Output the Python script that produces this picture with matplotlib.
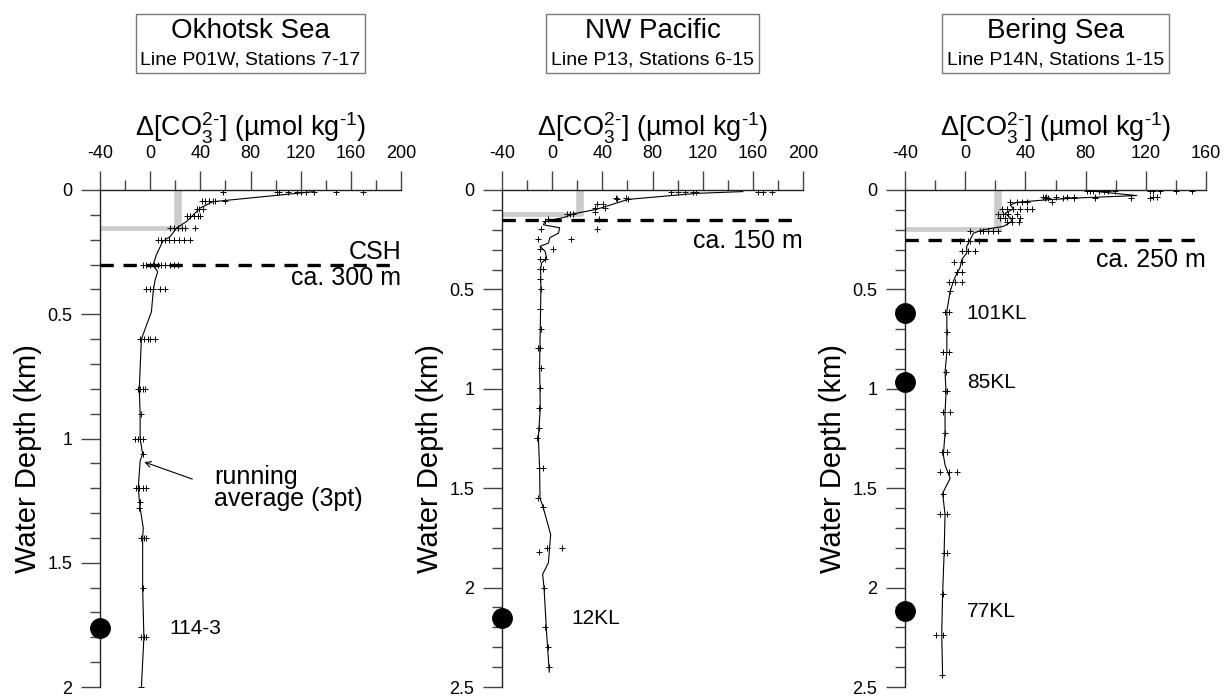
import matplotlib
matplotlib.use('Agg')
import matplotlib.pyplot as plt
from matplotlib.ticker import MultipleLocator, FormatStrFormatter
from matplotlib.offsetbox import TextArea, VPacker, AnnotationBbox

plt.rcParams['font.family'] = ['Liberation Sans', 'DejaVu Sans']
plt.rcParams['mathtext.fontset'] = 'custom'
plt.rcParams['mathtext.rm'] = 'Liberation Sans'
plt.rcParams['mathtext.it'] = 'Liberation Sans:italic'
plt.rcParams['mathtext.default'] = 'regular'
plt.rcParams['axes.unicode_minus'] = False

# ---- Okhotsk Sea (P01W) : measured points (depth km, delta CO3) ----
okh_z = [0.007] * 10 + [0.045] * 6 + [0.075] * 3 + [0.105] * 5 + [0.153] * 6 + \
        [0.203] * 8 + [0.30] * 10 + [0.40] * 5 + [0.60] * 5 + [0.80] * 4 + \
        [0.90, 1.0, 1.0, 1.0, 1.0, 1.063, 1.2, 1.2, 1.2, 1.2, 1.256, 1.28,
         1.4, 1.4, 1.4, 1.6, 1.8, 1.8, 1.8, 2.0]
okh_x = [58, 101, 103, 110, 117, 120, 124, 131, 148, 170,
         41, 44, 47, 50, 52, 60,
         37, 39, 42,
         29, 32, 35, 38, 40,
         16, 19, 22, 25, 28, 36,
         6, 9, 12, 15, 19, 23, 27, 32,
         -6, -3, 0, 3, 6, 9, 12, 16, 19, 22,
         -3, 0, 2, 8, 12,
         -8, -5, -2, 0, 4,
         -10, -8, -6, -4,
         -7, -12, -10, -8, -6, -6, -11, -9, -6, -3, -8, -9,
         -7, -5, -3, -6, -7, -5, -3, -7]
# running average (3pt) as drawn
okh_avg_z = [0.007, 0.047, 0.072, 0.107, 0.127, 0.153, 0.187, 0.207, 0.26, 0.30,
             0.33, 0.36, 0.404, 0.49, 0.60, 0.80, 0.90, 1.0, 1.063, 1.09, 1.2,
             1.28, 1.36, 1.40, 1.6, 1.8, 2.0]
okh_avg_x = [130, 50, 40, 33, 29, 21, 16, 10, 5, 2.5,
             6, 4, 2.5, 1, -7, -8.7, -8, -8, -6, -8, -9.5,
             -8, -5.5, -6, -6, -5, -7]

# ---- NW Pacific (P13) ----
nwp_z = [0.010] * 8 + [0.04, 0.04, 0.047, 0.047, 0.07, 0.07, 0.092, 0.092, 0.113,
         0.12, 0.12, 0.12, 0.147, 0.147, 0.158, 0.197, 0.197, 0.247, 0.247,
         0.297, 0.297, 0.347, 0.347, 0.397, 0.397, 0.447, 0.497, 0.6, 0.7,
         0.797, 0.797, 0.897, 0.997, 1.097, 1.197, 1.245, 1.40, 1.40, 1.55,
         1.597, 1.80, 1.80, 1.82, 2.0, 2.2, 2.3, 2.4]
nwp_x = [94.5, 100, 106, 112.5, 115, 164, 168, 175,
         51, 59, 51.4, 60.7, 35.7, 40.5, 34, 42, 34,
         11.6, 14, 17, -3, 37.6, -5.7, -9, 36, -11, 15,
         -10, 0.4, -9.7, -5.7, -9.7, -7, -10, -9, -10, -8.6,
         -11, -9.7, -9, -9.7, -10.5, -10.3, -12.4, -10.3, -7.6, -11.6,
         -7.6, -4.4, 7.6, -10.5, -6.5, -5.7, -3.6, -2.3]
nwp_avg_z = [0.008, 0.017, 0.047, 0.097, 0.12, 0.137, 0.158, 0.175, 0.19, 0.217,
             0.24, 0.267, 0.283, 0.308, 0.342, 0.367, 0.397, 0.5, 0.7, 0.88,
             1.1, 1.245, 1.40, 1.55, 1.6, 1.733, 1.875, 1.933, 2.0, 2.233, 2.425]
nwp_avg_x = [152, 115, 60.7, 35.5, 17, 10, -5.7, -7, 6, 5,
             -1.8, -3, -9.7, -5.7, -4.4, -8.4, -9.2, -9, -9.5, -10,
             -9.5, -11, -10, -9.7, -7, -1.2, -3, -7.6, -6.5, -4.4, -2.3]

# ---- Bering Sea (P14N) ----
ber_z = [0.003] * 12 + [0.033] * 8 + [0.038] * 7 + [0.062] * 5 + [0.095] * 6 + \
        [0.12] * 4 + [0.14] * 4 + [0.16] * 3 + [0.208] * 6 + [0.258] * 4 + \
        [0.308] * 3 + [0.36, 0.36, 0.41, 0.41, 0.463, 0.463, 0.463, 0.51,
         0.613, 0.613, 0.713, 0.813, 0.813, 0.913, 1.013, 1.013, 1.117, 1.117,
         1.22, 1.32, 1.32, 1.42, 1.42, 1.42, 1.528, 1.628, 1.628, 1.825, 1.825,
         2.03, 2.24, 2.24, 2.44]
ber_x = [81, 83, 85, 88.6, 92, 95, 99.6, 123, 125, 129.6, 140, 150.7,
         52, 54, 60, 67.6, 72, 86, 125, 127.5,
         53, 55, 65, 72, 86, 110, 123,
         30, 34.7, 37.6, 41, 57.6,
         24.3, 27.7, 32, 36.5, 41, 44.3,
         22, 25.4, 28.7, 34.3,
         23, 26.5, 31, 36.5,
         27.7, 31, 36,
         3.3, 10, 12, 15.4, 18.8, 22,
         -3.4, 2, 3.3, 9.5,
         -2.3, 2, 6.6,
         -7.4, -2.3, -5.6, -2.3, -11, -6.7, -2.3, -10,
         -13.4, -11, -11.8, -14.5, -11, -12.7, -13.4, -12.2, -14.5, -10,
         -13.4, -15.6, -12.2, -17, -11, -5.6, -15, -17, -12.2, -14, -11.8,
         -15, -19.4, -14.5, -15.6]
ber_avg_z = [0.003, 0.028, 0.04, 0.05, 0.062, 0.075, 0.095, 0.117, 0.14, 0.158,
             0.183, 0.2, 0.217, 0.25, 0.283, 0.317, 0.35, 0.39, 0.42, 0.458,
             0.51, 0.61, 0.713, 0.817, 0.917, 1.017, 1.117, 1.22, 1.333, 1.383,
             1.45, 1.525, 1.633, 1.825, 2.03, 2.233, 2.45]
ber_avg_x = [81, 114, 75, 53, 34.3, 30, 32, 26.5, 30, 31,
             25.4, 12, 5.5, 3.3, 1, 1, -2.3, -3.4, -5.6, -7.8,
             -10, -12.2, -12.2, -12.2, -13.4, -12.7, -13.4, -13.4, -14.5, -13.4,
             -10, -15, -13.4, -14, -15, -15.6, -15]

names = ['Okhotsk Sea', 'NW Pacific', 'Bering Sea']
lines = ['Line P01W, Stations 7-17', 'Line P13, Stations 6-15', 'Line P14N, Stations 1-15']
xmax = [200, 200, 160]
zmax = [2, 2.5, 2.5]
sat_x = [22, 22, 22]          # grey step: delta value
sat_z = [0.151, 0.12, 0.195]  # grey step: depth
csh_z = [0.30, 0.15, 0.25]
csh_txt = ['ca. 300 m', 'ca. 150 m', 'ca. 250 m']
csh_txt_z = [0.356, 0.255, 0.35]
core_names = [['114-3'], ['12KL'], ['101KL', '85KL', '77KL']]
core_z = [[1.763], [2.155], [0.62, 0.967, 2.12]]
core_lbl_x = [15, 15, 1]

pts = [(okh_z, okh_x), (nwp_z, nwp_x), (ber_z, ber_x)]
avgs = [(okh_avg_z, okh_avg_x), (nwp_avg_z, nwp_avg_x), (ber_avg_z, ber_avg_x)]

fig = plt.figure(figsize=(12.29, 6.97), dpi=100)
lefts = [100, 502, 905]
axes = []
for i in range(3):
    ax = fig.add_axes([lefts[i] / 1229, 10 / 697, 301 / 1229, 497 / 697])
    axes.append(ax)
    ax.set_xlim(-40, xmax[i])
    ax.set_ylim(zmax[i], 0)
    for s in ['right', 'bottom']:
        ax.spines[s].set_visible(False)
    for s in ['left', 'top']:
        ax.spines[s].set_color('#222222')
        ax.spines[s].set_linewidth(1)
    ax.xaxis.tick_top()
    ax.xaxis.set_label_position('top')
    ax.xaxis.set_major_locator(MultipleLocator(40))
    ax.xaxis.set_minor_locator(MultipleLocator(20))
    ax.yaxis.set_major_locator(MultipleLocator(0.5))
    ax.yaxis.set_minor_locator(MultipleLocator(0.1))
    ax.yaxis.set_major_formatter(FormatStrFormatter('%g'))
    ax.tick_params(which='major', length=14, width=1, color='#444444',
                   labelsize=13, pad=6)
    ax.tick_params(which='minor', length=7, width=1, color='#444444')
    ax.set_xlabel(r'Δ[CO$_3^{2\text{-}}$] (µmol kg$^{\text{-}1}$)', fontsize=19.5, labelpad=6)
    ax.set_ylabel('Water Depth (km)', fontsize=21)
    ax.yaxis.set_label_coords(-0.193, 0.46)

    # saturation step in grey
    ax.plot([sat_x[i], sat_x[i]], [0, sat_z[i] + 0.01], color='#cccccc', lw=5.5,
            solid_capstyle='butt', zorder=1)
    ax.plot([-40, sat_x[i] + 2], [sat_z[i], sat_z[i]], color='#cccccc', lw=3.5,
            solid_capstyle='butt', zorder=1)

    # data and running average
    ax.plot(pts[i][1], pts[i][0], '+', color='black', ms=5, mew=0.7, zorder=3)
    ax.plot(avgs[i][1], avgs[i][0], '-', color='black', lw=0.8, zorder=3)

    # CSH dashed line
    ax.axhline(csh_z[i], xmin=0, xmax=0.965, color='black', lw=2.4,
               linestyle=(0, (4.0, 2.9)), zorder=4)
    ax.text(xmax[i], csh_txt_z[i], csh_txt[i], fontsize=18, ha='right', va='center')

    # core sites
    for name, z in zip(core_names[i], core_z[i]):
        ax.plot(-40, z, 'o', color='black', ms=14, clip_on=False, zorder=5)
        ax.text(core_lbl_x[i], z, name, fontsize=15, ha='left', va='center')

    # title box
    t1 = TextArea(names[i], textprops=dict(fontsize=20))
    t2 = TextArea(lines[i], textprops=dict(fontsize=14))
    pack = VPacker(children=[t1, t2], align='center', pad=0, sep=5)
    ab = AnnotationBbox(pack, (0.5, 1.295), xycoords='axes fraction', frameon=True,
                        pad=0.35, bboxprops=dict(edgecolor='#777777', lw=1))
    ax.add_artist(ab)

axes[0].text(200, 0.248, 'CSH', fontsize=18, ha='right', va='center')
axes[0].annotate('', xy=(-6.8, 1.091), xytext=(35.7, 1.167),
                 arrowprops=dict(arrowstyle='->', lw=0.8, color='black'))
axes[0].text(51, 1.2, 'running\naverage (3pt)', fontsize=18, ha='left', va='center',
             linespacing=0.9)

fig.savefig('out.png', dpi=100)
